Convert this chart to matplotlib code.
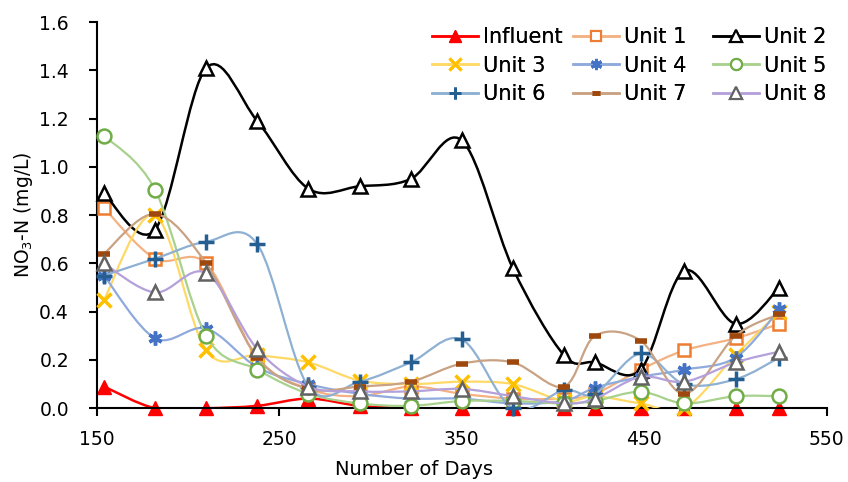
import numpy as np
import matplotlib.pyplot as plt
from matplotlib.path import Path
from matplotlib.patches import PathPatch
from matplotlib.lines import Line2D

# sampling days
days = [154, 182, 210, 238, 266, 294, 322, 350, 378, 406, 423, 448, 472, 500, 524]

# NO3-N (mg/L)
influent = [0.09, 0.0, 0.0, 0.01, 0.04, 0.01, 0.0, 0.0, 0.0, 0.0, 0.0, 0.0, 0.0, 0.0, 0.0]
unit1 = [0.83, 0.62, 0.60, 0.21, 0.08, 0.05, 0.09, 0.06, 0.04, 0.04, 0.06, 0.16, 0.24, 0.29, 0.35]
unit2 = [0.89, 0.74, 1.41, 1.19, 0.91, 0.92, 0.95, 1.11, 0.58, 0.22, 0.19, 0.16, 0.57, 0.35, 0.50]
unit3 = [0.45, 0.80, 0.24, 0.22, 0.19, 0.115, 0.10, 0.11, 0.10, 0.03, 0.05, 0.02, 0.0, 0.22, 0.40]
unit4 = [0.55, 0.29, 0.33, 0.17, 0.10, 0.06, 0.04, 0.04, 0.02, 0.03, 0.085, 0.13, 0.16, 0.21, 0.41]
unit5 = [1.13, 0.905, 0.30, 0.16, 0.06, 0.02, 0.01, 0.03, 0.03, 0.02, 0.03, 0.068, 0.02, 0.05, 0.05]
unit6 = [0.55, 0.62, 0.69, 0.68, 0.09, 0.11, 0.19, 0.285, 0.0, 0.075, 0.06, 0.227, 0.10, 0.12, 0.21]
unit7 = [0.64, 0.805, 0.60, 0.21, 0.08, 0.09, 0.11, 0.185, 0.19, 0.09, 0.30, 0.28, 0.06, 0.30, 0.39]
unit8 = [0.60, 0.48, 0.56, 0.245, 0.09, 0.07, 0.07, 0.08, 0.05, 0.02, 0.04, 0.13, 0.11, 0.19, 0.235]

names = ['Influent', 'Unit 1', 'Unit 2', 'Unit 3', 'Unit 4', 'Unit 5', 'Unit 6', 'Unit 7', 'Unit 8']
series = [influent, unit1, unit2, unit3, unit4, unit5, unit6, unit7, unit8]

# (line colour, line width, marker, marker edge, marker face, marker size, mew)
styles = [
    ('#FF0000', 1.8, '^', '#FF0000', '#FF0000', 10, 1.0),
    ('#F4B183', 1.6, 's', '#ED7D31', 'white', 9, 1.8),
    ('#000000', 1.8, '^', '#000000', 'white', 10, 1.8),
    ('#FFD966', 1.6, 'x', '#FFC000', 'none', 10, 2.5),
    ('#8FAADC', 1.6, (6, 2, 0), '#4472C4', 'none', 10, 2.5),
    ('#A9D18E', 1.6, 'o', '#70AD47', 'white', 10, 1.8),
    ('#8EB0D2', 1.6, '+', '#255E91', 'none', 11, 2.5),
    ('#C9A283', 1.6, '_', '#9E480E', 'none', 8, 4.0),
    ('#B4A0DA', 1.6, '^', '#636363', 'white', 10, 1.8),
]


def smooth_path(x, y):
    # Excel-style smoothed line as cubic Bezier segments
    n = len(x)
    pts = np.column_stack([x, y]).astype(float)
    verts = [pts[0]]
    codes = [Path.MOVETO]
    for i in range(n - 1):
        p0 = pts[max(i - 1, 0)]
        p1 = pts[i]
        p2 = pts[i + 1]
        p3 = pts[min(i + 2, n - 1)]
        c1 = p1 + (p2 - p0) / 6.0
        c2 = p2 - (p3 - p1) / 6.0
        verts += [c1, c2, p2]
        codes += [Path.CURVE4] * 3
    return Path(verts, codes)


fig = plt.figure(figsize=(8.48, 4.82), dpi=100)
ax = fig.add_axes([0.114, 0.153, 0.861, 0.801])

handles = []
for k, (vals, st) in enumerate(zip(series, styles)):
    lc, lw, mk, mec, mfc, ms, mew = st
    patch = PathPatch(smooth_path(days, vals), facecolor='none', edgecolor=lc,
                      lw=lw, zorder=2 + k, capstyle='round')
    ax.add_patch(patch)
    ax.plot(days, vals, linestyle='none', marker=mk, ms=ms, mec=mec, mfc=mfc,
            mew=mew, zorder=2.5 + k, clip_on=False)
    handles.append(Line2D([], [], color=lc, lw=1.8, marker=mk, ms=ms * 0.8,
                          mec=mec, mfc=mfc, mew=mew * 0.85))

ax.set_xlim(150, 550)
ax.set_ylim(0, 1.6)
ax.set_xticks(np.arange(150, 551, 100))
ax.set_yticks(np.arange(0, 1.61, 0.2))
ax.set_yticklabels(['%.1f' % v for v in np.arange(0, 1.61, 0.2)])
for s in ['top', 'right']:
    ax.spines[s].set_visible(False)
for s in ['left', 'bottom']:
    ax.spines[s].set_linewidth(1.5)
ax.tick_params(axis='both', direction='out', length=6, width=1.5, labelsize=13.5)
ax.tick_params(axis='y', pad=14)
ax.tick_params(axis='x', pad=10)

ax.set_xlabel('Number of Days', fontsize=14)
ax.xaxis.set_label_coords(0.434, -0.135)
ax.set_ylabel('NO$_3$-N (mg/L)', fontsize=13.5)
ax.yaxis.set_label_coords(-0.085, 0.5)

# legend in three columns, each placed on its own
col_x = [432, 573, 713]
for c in range(3):
    idx = [c, c + 3, c + 6]
    leg = fig.legend([handles[i] for i in idx], [names[i] for i in idx],
                     loc='upper left', bbox_to_anchor=(col_x[c] / 848, 1 - 27 / 482),
                     frameon=False, fontsize=15, handlelength=2.2, handletextpad=0.25,
                     labelspacing=0.42, borderpad=0, borderaxespad=0)
    fig.add_artist(leg)

fig.savefig('out.png', dpi=100)
